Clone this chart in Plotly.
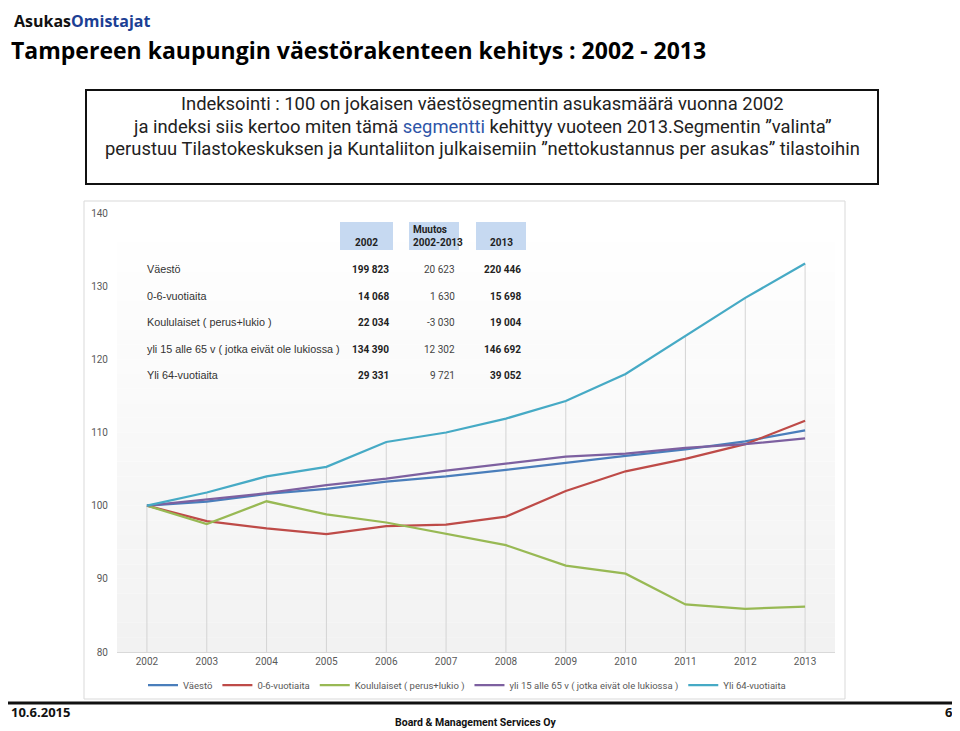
import plotly.graph_objects as go

years = [2002, 2003, 2004, 2005, 2006, 2007, 2008, 2009, 2010, 2011, 2012, 2013]
series_names = ["Väestö", "0-6-vuotiaita", "Koululaiset ( perus+lukio )",
                "yli 15 alle 65 v ( jotka eivät ole lukiossa )", "Yli 64-vuotiaita"]
vaesto = [100, 100.55, 101.6, 102.3, 103.3, 104.0, 104.9, 105.9, 106.8, 107.7, 108.8, 110.3]
lapset = [100, 97.9, 96.9, 96.1, 97.2, 97.4, 98.5, 102.0, 104.7, 106.4, 108.4, 111.6]
koululaiset = [100, 97.5, 100.6, 98.8, 97.7, 96.1, 94.6, 91.8, 90.7, 86.5, 85.9, 86.2]
tyoikaiset = [100, 100.8, 101.7, 102.8, 103.7, 104.8, 105.7, 106.7, 107.1, 107.9, 108.4, 109.2]
yli64 = [100, 101.8, 104.0, 105.3, 108.7, 110.0, 111.9, 114.3, 118.0, 123.2, 128.4, 133.1]
series_values = [vaesto, lapset, koululaiset, tyoikaiset, yli64]
colors = ["#4a7ebb", "#be4b48", "#98b954", "#7d60a0", "#46aac5"]

y_ticks = [80, 90, 100, 110, 120, 130, 140]

table_headers = ["2002", "Muutos<br>2002-2013", "2013"]
table_2002 = ["199 823", "14 068", "22 034", "134 390", "29 331"]
table_muutos = ["20 623", "1 630", "-3 030", "12 302", "9 721"]
table_2013 = ["220 446", "15 698", "19 004", "146 692", "39 052"]

# page offset (browser body margin) and plot area in screen pixels
OFF = 8
L, R, T, B = 117, 835, 213, 652
W, H = R - L, B - T
FW, FH = 960, 731


def px(x):
    return (x - L) / W


def py(y):
    return (B - y) / H


fig = go.Figure()

# drop lines from the highest point down to the axis
dx, dy = [], []
for i, yr in enumerate(years):
    top = max(s[i] for s in series_values)
    dx += [yr, yr, None]
    dy += [y_ticks[0], top, None]
fig.add_trace(go.Scatter(x=dx, y=dy, mode="lines", line=dict(color="#d4d4d4", width=1),
                         hoverinfo="skip", showlegend=False))

for name, vals, col in zip(series_names, series_values, colors):
    fig.add_trace(go.Scatter(x=years, y=vals, mode="lines", name=name,
                             line=dict(color=col, width=2.25)))

shapes = []
# gradient background of plot area
n = 30
for k in range(n):
    t = k / (n - 1)
    c = int(round(242 + (255 - 242) * t))
    shapes.append(dict(type="rect", xref="x domain", yref="y domain",
                       x0=0, x1=1, y0=k / n, y1=(k + 1) / n,
                       fillcolor=f"rgb({c},{c},{c})", line=dict(width=0), layer="below"))
# chart box
shapes.append(dict(type="rect", xref="paper", yref="paper", x0=px(84), x1=px(845),
                   y0=py(699), y1=py(201), line=dict(color="#d9d9d9", width=1)))
# text box
shapes.append(dict(type="rect", xref="paper", yref="paper", x0=px(86), x1=px(878),
                   y0=py(184), y1=py(90), line=dict(color="#111111", width=2)))
# footer line
shapes.append(dict(type="line", xref="paper", yref="paper", x0=px(OFF), x1=px(958),
                   y0=py(703), y1=py(703), line=dict(color="#111111", width=3)))
# table header cells
for x0, x1 in [(340, 393), (409, 459), (476, 526)]:
    shapes.append(dict(type="rect", xref="paper", yref="paper", x0=px(x0), x1=px(x1),
                       y0=py(250), y1=py(222), fillcolor="#c6d9f1", line=dict(width=0)))

ann = []


def add(text, x, y, size, color="#222222", xanchor="left", bold=False, family="Roboto", yanchor="middle"):
    if bold:
        text = f"<b>{text}</b>"
    ann.append(dict(text=text, x=px(x), y=py(y), xref="paper", yref="paper",
                    xanchor=xanchor, yanchor=yanchor, showarrow=False,
                    font=dict(size=size, color=color, family=family)))


add("Asukas<span style='color:#1c3f94'>Omistajat</span>", 12, OFF, 16, "#111111", bold=True,
    family="Open Sans", yanchor="top")
add("Tampereen kaupungin väestörakenteen kehitys : 2002 - 2013", 9, 50, 23, "#000000", bold=True, family="Open Sans")

add("Indeksointi : 100 on jokaisen väestösegmentin asukasmäärä vuonna 2002", 482, 103, 18.4, "#222222", xanchor="center")
add("ja indeksi siis kertoo miten tämä <span style='color:#2e55a8'>segmentti</span> kehittyy vuoteen 2013.Segmentin ”valinta”",
    482, 126, 18.4, "#222222", xanchor="center")
add("perustuu Tilastokeskuksen ja Kuntaliiton julkaisemiin ”nettokustannus per asukas” tilastoihin",
    482, 149, 18.4, "#222222", xanchor="center")

# table
add(table_headers[0], 366, 242, 10, "#222222", xanchor="center", bold=True)
ann.append(dict(text="<b>" + table_headers[1] + "</b>", x=px(411), y=py(236), xref="paper", yref="paper",
                xanchor="left", yanchor="middle", align="left", showarrow=False,
                font=dict(size=10, color="#222222", family="Roboto")))
add(table_headers[2], 501, 242, 10, "#222222", xanchor="center", bold=True)
row_y = [269, 296, 322, 349, 375]
for i, yv in enumerate(row_y):
    add(series_names[i], 145, yv, 10.8, "#333333", family="Liberation Sans")
    add(table_2002[i], 391, yv, 10, "#222222", xanchor="right", bold=True)
    add(table_muutos[i], 457, yv, 10, "#444444", xanchor="right")
    add(table_2013[i], 523, yv, 10, "#222222", xanchor="right", bold=True)

# footer
add("10.6.2015", 9, 712, 13, "#111111", bold=True, family="Open Sans")
add("6", 955, 712, 13, "#111111", xanchor="right", bold=True, family="Open Sans")
add("Board & Management Services Oy", 475, 722, 10.5, "#111111", xanchor="center", bold=True, family="Roboto")

fig.update_layout(
    width=FW, height=FH,
    margin=dict(l=L - OFF, r=FW - (R - OFF), t=T - OFF, b=FH - (B - OFF)),
    paper_bgcolor="white", plot_bgcolor="white",
    shapes=shapes, annotations=ann,
    showlegend=True,
    legend=dict(orientation="h", x=px(467), y=py(685), xanchor="center", yanchor="middle",
                font=dict(size=9.5, color="#595959", family="Roboto"),
                itemwidth=30, tracegroupgap=0, bgcolor="rgba(0,0,0,0)"),
    xaxis=dict(range=[2001.5, 2013.5], tickvals=years, ticktext=[str(y) for y in years],
               showgrid=False, zeroline=False, showline=True, linecolor="#d9d9d9",
               ticks="", tickfont=dict(size=10, color="#595959", family="Roboto")),
    yaxis=dict(range=[80, 140], tickvals=y_ticks, showgrid=False, zeroline=False,
               showline=False, ticks="", ticklabelstandoff=8,
               tickfont=dict(size=10, color="#595959", family="Roboto")),
)

fig.write_html("out.html")
